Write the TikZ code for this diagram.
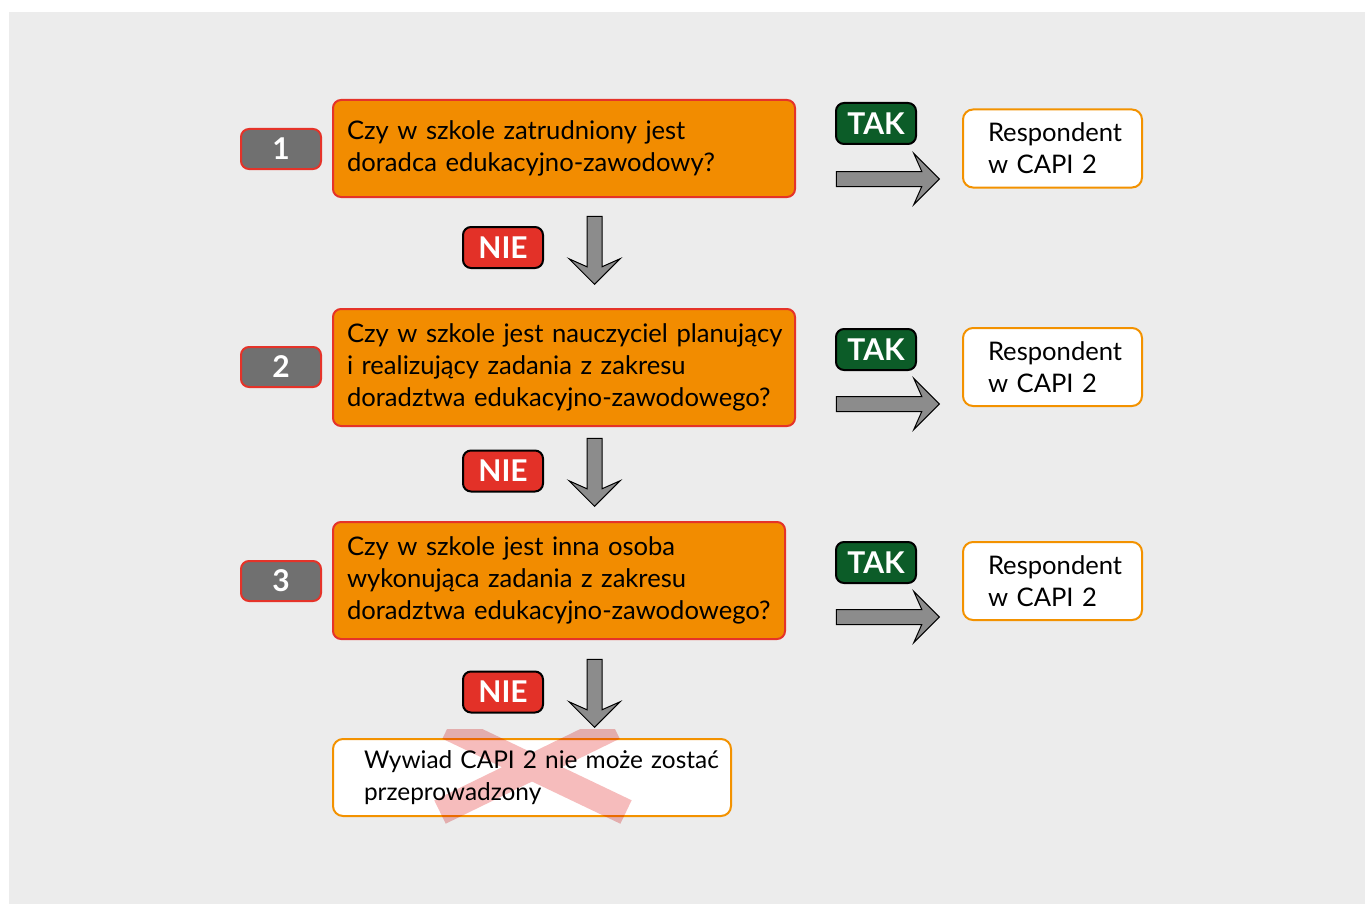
\documentclass[tikz,border=0pt]{standalone}
\usepackage{fontspec}
\setmainfont{Lato}
\usetikzlibrary{shapes.arrows}
\definecolor{bgGray}{RGB}{236,236,236}
\definecolor{qOrange}{RGB}{242,140,0}
\definecolor{qRed}{RGB}{229,51,41}
\definecolor{numGray}{RGB}{112,112,112}
\definecolor{nieRed}{RGB}{227,49,40}
\definecolor{takGreen}{RGB}{12,92,40}
\definecolor{resOrange}{RGB}{243,146,0}
\definecolor{arrGray}{RGB}{140,140,140}
\definecolor{crossPink}{RGB}{246,188,188}
\begin{document}
\begin{tikzpicture}[x=0.5pt, y=-0.5pt,
		numbox/.style={draw=qRed, line width=1pt, fill=numGray, rounded corners=4pt, minimum width=40pt, minimum height=20pt, inner sep=0, text=white, font=\fontsize{15}{15}\selectfont\bfseries},
		qbox/.style={draw=qRed, line width=1pt, fill=qOrange, rounded corners=4pt, inner xsep=7pt, inner ysep=0, align=left, font=\fontsize{12.8}{16}\selectfont},
		nie/.style={draw=black, line width=1pt, fill=nieRed, rounded corners=4pt, minimum width=40pt, minimum height=20.5pt, inner sep=0, text=white, font=\fontsize{15}{15}\selectfont\bfseries},
		tak/.style={nie, fill=takGreen},
		resbox/.style={draw=resOrange, line width=1pt, fill=white, rounded corners=5pt, inner xsep=12.5pt, inner ysep=0, text width=64.5pt, minimum height=39pt, align=left, font=\fontsize{12.8}{16}\selectfont},
		endbox/.style={resbox, inner xsep=15.5pt, text width=168pt, minimum height=38.5pt, font=\fontsize{12.2}{16}\selectfont},
		rarr/.style={single arrow, draw=black, line width=0.5pt, fill=arrGray, inner sep=3.5pt, single arrow head extend=9pt, single arrow head indent=4pt, minimum height=51.5pt, anchor=tip},
		darr/.style={rarr, rotate=-90, minimum height=34pt},
	]
	\useasboundingbox (0,0) rectangle (1365,904);
	\fill[white] (0,0) rectangle (1365,904);
	\fill[bgGray] (9,12) rectangle (1365,904);
	\node[numbox] (num1) at (281,149) {1};
	\node[numbox] (num2) at (281,367) {2};
	\node[numbox] (num3) at (281,581) {3};
	\node[qbox, text width=217pt, minimum height=48.5pt] (q1) at (564,148.5) {Czy w szkole zatrudniony jest\\doradca edukacyjno-zawodowy?};
	\node[qbox, text width=217pt, minimum height=58.5pt] (q2) at (564,367.5) {\mbox{Czy w szkole jest nauczyciel planujący}\\i realizujący zadania z zakresu\\\mbox{doradztwa edukacyjno-zawodowego?}};
	\node[qbox, text width=212pt, minimum height=58.5pt] (q3) at (559,580.5) {Czy w szkole jest inna osoba\\wykonująca zadania z zakresu\\\mbox{doradztwa edukacyjno-zawodowego?}};
	\node[tak] (tak1) at (876,123.5) {TAK};
	\node[tak] (tak2) at (876,349.5) {TAK};
	\node[tak] (tak3) at (876,562.5) {TAK};
	\node[rarr] (right1) at (940,179) {};
	\node[rarr] (right2) at (940,404) {};
	\node[rarr] (right3) at (940,617) {};
	\node[resbox] (resp1) at (1052.5,148.5) {Respondent\\w CAPI 2};
	\node[resbox] (resp2) at (1052.5,367) {Respondent\\w CAPI 2};
	\node[resbox] (resp3) at (1052.5,581) {Respondent\\w CAPI 2};
	\node[nie] (nie1) at (503,247.5) {NIE};
	\node[nie] (nie2) at (503,471) {NIE};
	\node[nie] (nie3) at (503,692) {NIE};
	\node[darr] (down1) at (594.5,285) {};
	\node[darr] (down2) at (594.5,507) {};
	\node[darr] (down3) at (594.5,728) {};
	\node[endbox] (end) at (532,777.5) {\mbox{Wywiad CAPI 2 nie może zostać}\\przeprowadzony};
	\begin{scope}[blend mode=multiply]
		\clip (0,729) rectangle (1365,826);
		\draw[crossPink, line width=13pt] (448,727) -- (626,812) (614,727) -- (440,812);
	\end{scope}
\end{tikzpicture}
\end{document}
